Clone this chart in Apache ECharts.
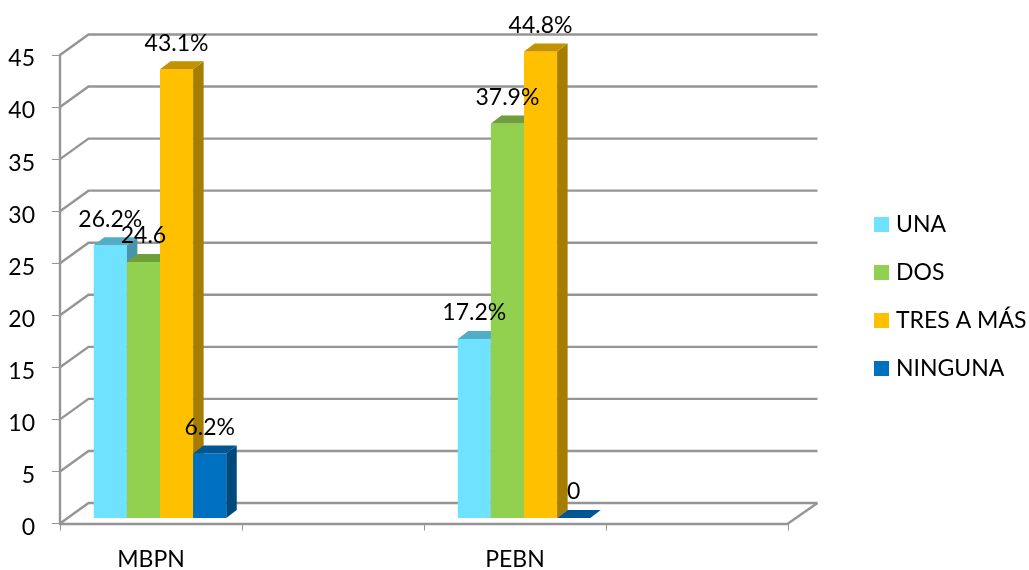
<!DOCTYPE html>
<html>
<head>
<meta charset="utf-8">
<style>html,body{margin:0;padding:0;background:#fff}#chart{width:1029px;height:570px}</style>
<script src="https://cdn.jsdelivr.net/npm/echarts@6/dist/echarts.min.js"></script>
</head>
<body>
<div id="chart"></div>
<script>
const categories = ['MBPN', '', 'PEBN', ''];
const yTicks = [0, 5, 10, 15, 20, 25, 30, 35, 40, 45];

const una = [26.2, null, 17.2, null];
const dos = [24.6, null, 37.9, null];
const tresAMas = [43.1, null, 44.8, null];
const ninguna = [6.2, null, 0, null];

const unaLabels = ['26.2%', '', '17.2%', ''];
const dosLabels = ['24.6', '', '37.9%', ''];
const tresAMasLabels = ['43.1%', '', '44.8%', ''];
const ningunaLabels = ['6.2%', '', '0', ''];

const FONT = 'Lato, "Open Sans", sans-serif';
const FONT_SIZE = 23;
const INK = '#000';
const LINE = '#959595';

// Pseudo-3D projection offsets, in pixels
const WALL_DX = 28.5, WALL_DY = -20.5;
const BAR_DX = 10.5, BAR_DY = -8;
const FLOOR_DX = 9, FLOOR_DY = -5.5;
const BAR_FRACTION = 0.182;

function wallRenderer(params, api) {
  const y = api.coord([0, api.value(1)])[1];
  const x0 = params.coordSys.x;
  const x1 = x0 + params.coordSys.width;
  const style = { stroke: LINE, lineWidth: 2.4, fill: null };
  const children = [{
    type: 'polyline',
    shape: { points: [[x0, y], [x0 + WALL_DX, y + WALL_DY], [x1 + WALL_DX + 1, y + WALL_DY]] },
    style
  }];
  if (api.value(1) === 0) {
    children.push({
      type: 'line',
      shape: { x1: x1, y1: y, x2: x1 + WALL_DX + 1, y2: y + WALL_DY },
      style
    });
  }
  return { type: 'group', children };
}

function barRenderer(slot, front, top, side, labels) {
  return function (params, api) {
    const cat = api.value(0);
    const val = api.value(1);
    if (val == null || isNaN(val)) return null;
    const band = api.size([1, 0])[0];
    const w = band * BAR_FRACTION;
    const base = api.coord([cat, 0]);
    const tip = api.coord([cat, val]);
    const left = base[0] + FLOOR_DX + (slot - 2) * w;
    const right = left + w;
    const yb = base[1] + FLOOR_DY;
    const yt = tip[1] + FLOOR_DY;
    const children = [];
    if (yb - yt > 0.5) {
      children.push({ type: 'rect', shape: { x: left, y: yt, width: w, height: yb - yt }, style: { fill: front } });
      children.push({
        type: 'polygon',
        shape: { points: [[right, yt], [right + BAR_DX, yt + BAR_DY], [right + BAR_DX, yb + BAR_DY], [right, yb]] },
        style: { fill: side }
      });
    }
    children.push({
      type: 'polygon',
      shape: { points: [[left, yt], [left + BAR_DX, yt + BAR_DY], [right + BAR_DX, yt + BAR_DY], [right, yt]] },
      style: { fill: top }
    });
    children.push({
      type: 'text',
      z2: 100,
      style: {
        text: labels[cat], x: left + w / 2, y: yt - 26,
        align: 'center', verticalAlign: 'middle',
        font: FONT_SIZE + 'px ' + FONT, fill: INK
      }
    });
    return { type: 'group', children };
  };
}

function barSeries(name, slot, values, labels, front, top, side) {
  return {
    name,
    type: 'custom',
    z: 3,
    coordinateSystem: 'cartesian2d',
    itemStyle: { color: front },
    renderItem: barRenderer(slot, front, top, side, labels),
    encode: { x: 0, y: 1 },
    data: values.map((v, i) => [i, v]).filter(d => d[1] !== null)
  };
}

const chart = echarts.init(document.getElementById('chart'), null, { renderer: 'canvas' });
chart.setOption({
  animation: false,
  backgroundColor: '#fff',
  grid: { left: 60, right: 241, top: 55, height: 468.5, outerBoundsMode: 'none' },
  legend: {
    orient: 'vertical',
    left: 874,
    top: 213,
    padding: 0,
    itemWidth: 15,
    itemHeight: 15,
    itemGap: 25,
    icon: 'rect',
    data: ['UNA', 'DOS', 'TRES A MÁS', 'NINGUNA'],
    textStyle: { fontFamily: FONT, fontSize: FONT_SIZE, color: INK, padding: [0, 0, 0, 2] }
  },
  xAxis: {
    type: 'category',
    data: categories,
    axisLine: { lineStyle: { color: LINE, width: 2.4 } },
    axisTick: { show: true, alignWithLabel: false, interval: 0, length: 7, lineStyle: { color: LINE, width: 1 } },
    axisLabel: { interval: 0, fontFamily: FONT, fontSize: FONT_SIZE, color: INK, margin: 25 }
  },
  yAxis: {
    type: 'value',
    min: 0,
    max: 45,
    interval: 5,
    splitLine: { show: false },
    axisLine: { show: true, lineStyle: { color: LINE, width: 2.4 } },
    axisTick: { show: true, length: 8, lineStyle: { color: LINE, width: 1 } },
    axisLabel: {
      margin: 25,
      formatter: v => '{tick|' + v + '}',
      rich: { tick: { fontFamily: FONT, fontSize: FONT_SIZE, color: INK, padding: [8, 0, 0, 0] } }
    }
  },
  series: [
    {
      type: 'custom',
      z: 1,
      silent: true,
      coordinateSystem: 'cartesian2d',
      renderItem: wallRenderer,
      encode: { y: 1 },
      data: yTicks.map(t => [0, t])
    },
    barSeries('UNA', 0, una, unaLabels, '#6EE2FF', '#52AEC6', '#4895AB'),
    barSeries('DOS', 1, dos, dosLabels, '#92D050', '#6F9E3D', '#618A35'),
    barSeries('TRES A MÁS', 2, tresAMas, tresAMasLabels, '#FFC000', '#C29200', '#A67D00'),
    barSeries('NINGUNA', 3, ninguna, ningunaLabels, '#0070C0', '#005592', '#00497D')
  ]
});
</script>
</body>
</html>
